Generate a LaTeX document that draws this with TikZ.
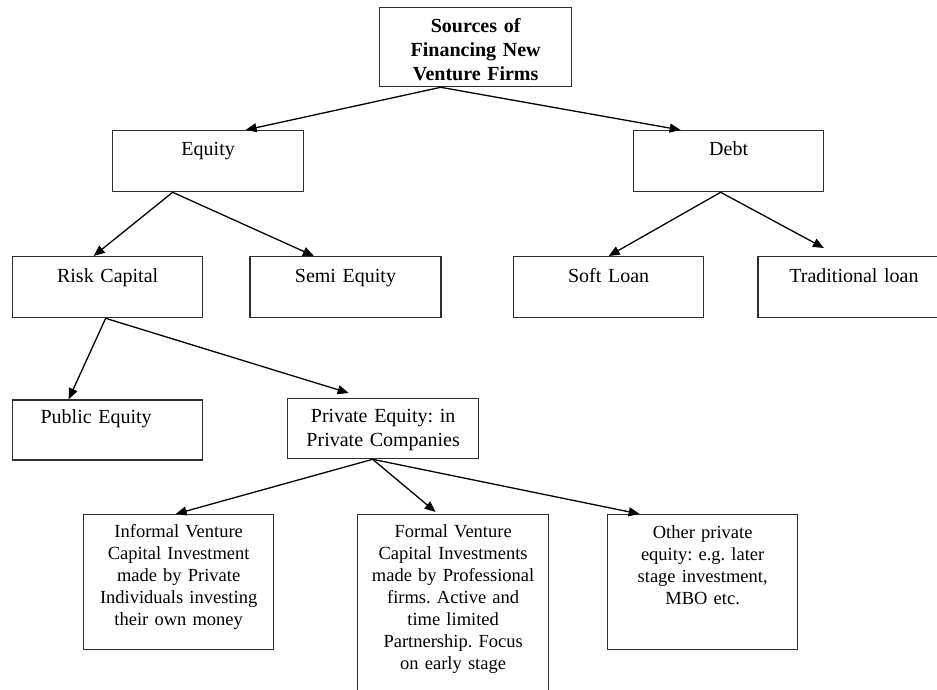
\documentclass[tikz,border=0pt]{standalone}
\usepackage{fontspec}
\setmainfont{Liberation Serif}
\usepackage{xcolor}
\usepackage{tikz}
\usetikzlibrary{arrows.meta,positioning}
\frenchspacing
\definecolor{ink}{HTML}{2E2E2E}
\tikzset{
  box/.style={draw=ink,line width=1.3pt,inner sep=0pt,align=center,text width=#1,font=\fontsize{20}{24}\selectfont,anchor=north west},
  box/.default=190pt,
  leaf/.style={box=#1,font=\fontsize{18.5}{22}\selectfont},
  leaf/.default=190pt,
  flow/.style={-{Triangle[length=11pt,width=9pt]},line width=1.3pt,draw=black}
}
\begin{document}
\begin{tikzpicture}[x=1pt,y=1pt]
  \clip (0,0) rectangle (937,-690);
  \node[box=192pt, font=\fontsize{20}{24}\selectfont\bfseries, text height=25pt, text depth=54pt] (src) at (379,-7) {Sources of\\Financing New\\Venture Firms};
  \node[box=191pt, text height=25pt, text depth=36pt] (eq) at (112,-130) {Equity};
  \node[box, text height=25pt, text depth=36pt] (debt) at (633,-130) {Debt};
  \node[box, text height=26pt, text depth=35pt] (risk) at (12,-256) {Risk Capital};
  \node[box=191pt, text height=26pt, text depth=35pt, right=46pt of risk] (semi) {Semi Equity};
  \node[box, text height=26pt, text depth=35pt] (soft) at (513,-256) {Soft Loan};
  \node[box=192pt, text height=26pt, text depth=35pt, right=53pt of soft] (trad) {Traditional loan};
  \node[box, text height=24pt, text depth=36pt, below=81pt of risk] (pub) {Public Equity\rule{23pt}{0pt}};
  \node[box=191pt, text height=24pt, text depth=36pt] (priv) at (287,-398) {Private Equity: in\\Private Companies};
  \node[leaf, text height=23pt, text depth=112pt] (inf) at (83,-514) {Informal Venture\\Capital Investment\\made by Private\\Individuals investing\\their own money};
  \node[leaf=191pt, text height=23pt, text depth=163pt] (formal) at (357,-514) {Formal Venture\\Capital Investments\\made by Professional\\firms. Active and\\time limited\\Partnership. Focus\\on early stage};
  \node[leaf, text height=24pt, text depth=111pt] (other) at (607,-514) {Other private\\equity: e.g. later\\stage investment,\\MBO etc.};
  \draw[flow] ([xshift=-35pt]src.south) -- ([xshift=37.5pt]eq.north);
  \draw[flow] ([xshift=-35pt]src.south) -- ([xshift=-48pt]debt.north);
  \draw[flow] ([xshift=-35.5pt]eq.south) -- ([xshift=-14pt]risk.north);
  \draw[flow] ([xshift=-35.5pt]eq.south) -- ([xshift=-31.5pt]semi.north);
  \draw[flow] ([xshift=-8pt]debt.south) -- (soft.north);
  \draw[flow] ([xshift=-8pt]debt.south) -- ([xshift=-30pt,yshift=8pt]trad.north);
  \draw[flow] ([xshift=-2pt]risk.south) -- ([xshift=-39pt]pub.north);
  \draw[flow] ([xshift=-2pt]risk.south) -- ([xshift=-34.5pt,yshift=5pt]priv.north);
  \draw[flow] ([xshift=-10.5pt]priv.south) -- ([xshift=-3pt]inf.north);
  \draw[flow] ([xshift=-10.5pt]priv.south) -- ([xshift=-17.5pt,yshift=2pt]formal.north);
  \draw[flow] ([xshift=-10.5pt]priv.south) -- ([xshift=-63pt]other.north);
\end{tikzpicture}
\end{document}
